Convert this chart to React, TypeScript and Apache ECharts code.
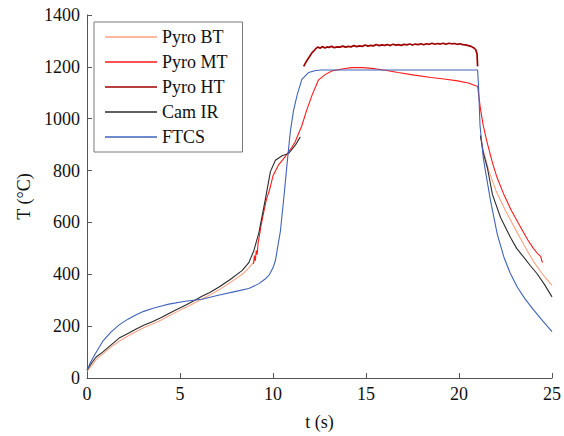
import React, { useEffect, useRef } from "react";
import * as echarts from "echarts";

const seriesNames = ["Pyro BT", "Pyro MT", "Pyro HT", "Cam IR", "FTCS"];
const seriesColors = ["#FFA282", "#FF1A1A", "#9E0000", "#2B2B2B", "#3F62BA"];

const xTicks = [0, 5, 10, 15, 20, 25];
const yTicks = [0, 200, 400, 600, 800, 1000, 1200, 1400];

// Pyro BT (two segments)
const btTimeA = [0, 0.25, 0.48, 0.84, 1.3, 1.73, 2.2, 2.62, 3.05, 3.51, 4.0, 4.4, 4.85, 5.29, 5.75, 6.18, 6.6, 7.1, 7.7, 8.35, 8.7, 9.0];
const btTempA = [25, 48, 70, 92, 120, 142, 162, 178, 194, 208, 224, 240, 256, 272, 288, 305, 320, 340, 368, 400, 425, 450];
const btTimeB = [21.15, 21.3, 21.6, 22.0, 22.5, 23.0, 23.5, 24.0, 24.5, 25.0];
const btTempB = [935, 880, 800, 720, 645, 578, 512, 450, 400, 357];

// Pyro MT
const mtTime = [8.95, 9.0, 9.05, 9.1, 9.15, 9.2, 9.25, 9.35, 9.5, 9.65, 9.8, 10.0, 10.3, 10.7, 11.0, 11.2, 11.55, 11.8, 12.09, 12.45, 12.8, 13.16, 13.7, 14.23, 14.8, 15.47, 16.1, 16.72, 17.6, 18.5, 19.2, 19.93, 20.5, 20.9, 21.0, 21.15, 21.3, 21.5, 21.8, 22.05, 22.4, 22.8, 23.2, 23.7, 24.0, 24.2, 24.4, 24.45, 24.5];
const mtTemp = [440, 472, 452, 492, 476, 522, 540, 585, 640, 690, 722, 780, 822, 858, 888, 912, 973, 1030, 1089, 1150, 1170, 1184, 1192, 1197, 1197, 1193, 1186, 1178, 1168, 1159, 1153, 1146, 1138, 1127, 1125, 1040, 975, 912, 830, 772, 710, 648, 596, 532, 500, 482, 468, 452, 446];

// Pyro HT
const htTime = [11.65, 11.8, 11.95, 12.1, 12.2, 12.3, 12.4, 12.55, 12.65, 12.8, 12.9, 13.0, 13.15, 13.3, 13.45, 13.6, 13.75, 13.9, 14.05, 14.2, 14.35, 14.5, 14.65, 14.8, 14.95, 15.1, 15.25, 15.4, 15.55, 15.7, 15.85, 16.0, 16.15, 16.3, 16.45, 16.6, 16.75, 16.9, 17.05, 17.2, 17.35, 17.5, 17.65, 17.8, 17.95, 18.1, 18.25, 18.4, 18.55, 18.7, 18.85, 19.0, 19.15, 19.3, 19.45, 19.6, 19.75, 19.9, 20.05, 20.2, 20.35, 20.5, 20.65, 20.8, 20.9, 20.97, 21.0];
const htTemp = [1202, 1222, 1238, 1255, 1262, 1270, 1276, 1272, 1278, 1273, 1277, 1275, 1279, 1274, 1277, 1276, 1280, 1276, 1279, 1277, 1282, 1278, 1281, 1279, 1284, 1280, 1283, 1281, 1286, 1282, 1285, 1283, 1286, 1282, 1287, 1284, 1286, 1283, 1287, 1285, 1288, 1284, 1288, 1286, 1289, 1285, 1289, 1287, 1291, 1287, 1290, 1288, 1291, 1287, 1291, 1289, 1290, 1287, 1289, 1286, 1285, 1282, 1279, 1273, 1266, 1250, 1202];

// Cam IR (two segments)
const camTimeA = [0, 0.25, 0.48, 0.84, 1.3, 1.73, 2.2, 2.62, 3.05, 3.51, 4.0, 4.4, 4.85, 5.29, 5.75, 6.18, 6.6, 7.1, 7.7, 8.35, 8.7, 8.97, 9.24, 9.6, 9.86, 10.13, 10.49, 10.84, 11.2, 11.47];
const camTempA = [30, 58, 80, 100, 128, 154, 172, 188, 203, 217, 233, 249, 265, 281, 298, 315, 330, 351, 380, 415, 445, 491, 560, 694, 796, 840, 857, 866, 898, 930];
const camTimeB = [21.15, 21.3, 21.53, 21.8, 22.24, 22.77, 23.1, 23.49, 23.85, 24.2, 24.6, 25.0];
const camTempB = [935, 870, 809, 707, 618, 542, 500, 465, 432, 402, 360, 313];

// FTCS
const ftTime = [0, 0.2, 0.4, 0.84, 1.3, 1.73, 2.2, 2.62, 3.05, 3.51, 4.0, 4.4, 5.29, 6.18, 7.0, 8.0, 8.7, 9.24, 9.6, 9.8, 10.0, 10.13, 10.22, 10.4, 10.58, 10.75, 10.93, 11.1, 11.29, 11.55, 11.91, 12.3, 12.6, 21.0, 21.05, 21.13, 21.31, 21.44, 21.7, 22.06, 22.42, 22.75, 23.13, 23.55, 24.02, 24.5, 25.0];
const ftTemp = [30, 62, 88, 141, 178, 205, 227, 243, 257, 268, 278, 285, 296, 304, 318, 334, 345, 364, 383, 398, 425, 453, 491, 567, 694, 821, 949, 1030, 1089, 1152, 1178, 1186, 1188, 1188, 1127, 974, 847, 790, 682, 554, 465, 405, 351, 305, 262, 220, 179];

const zip = (ts: number[], vs: number[]) => ts.map((t, i) => [t, vs[i]]);
const gap = (a: number[][], b: number[][]) => [...a, [null, null], ...b];

const FONT = "'Times New Roman', 'Liberation Serif', serif";
const FS = 18;

export default function App() {
  const ref = useRef<HTMLDivElement>(null);
  useEffect(() => {
    if (!ref.current) return;
    const chart = echarts.init(ref.current, null, { renderer: "svg" });
    const dataSets = [
      gap(zip(btTimeA, btTempA), zip(btTimeB, btTempB)),
      zip(mtTime, mtTemp),
      zip(htTime, htTemp),
      gap(zip(camTimeA, camTempA), zip(camTimeB, camTempB)),
      zip(ftTime, ftTemp),
    ];
    const axisLine = { show: true, lineStyle: { color: "#555", width: 1 } };
    const axisTick = { show: true, inside: true, length: 5, lineStyle: { color: "#555", width: 1 } };
    const txt = { fontFamily: FONT, fontSize: FS, color: "#111" };
    chart.setOption({
      animation: false,
      backgroundColor: "#fff",
      textStyle: { fontFamily: FONT, fontSize: FS },
      grid: { left: 87, right: 9, top: 15, bottom: 54, containLabel: false },
      legend: {
        orient: "vertical",
        left: 94,
        top: 22,
        padding: [6, 15, 6, 11],
        itemGap: 7,
        itemWidth: 52,
        itemHeight: 1.3,
        icon: "rect",
        borderColor: "#7a7a7a",
        borderWidth: 1,
        backgroundColor: "#fff",
        data: seriesNames,
        textStyle: { ...txt, lineHeight: 18 },
      },
      xAxis: {
        type: "value",
        min: xTicks[0],
        max: xTicks[xTicks.length - 1],
        interval: 5,
        name: "t (s)",
        nameLocation: "middle",
        nameGap: 35,
        nameTextStyle: { ...txt },
        axisLine,
        axisTick,
        splitLine: { show: false },
        axisLabel: { ...txt, margin: 7, formatter: (v: number) => String(v) },
      },
      yAxis: {
        type: "value",
        min: yTicks[0],
        max: yTicks[yTicks.length - 1],
        interval: 200,
        name: "T (°C)",
        nameLocation: "middle",
        nameGap: 53,
        nameTextStyle: { ...txt },
        axisLine,
        axisTick,
        splitLine: { show: false },
        axisLabel: { ...txt, margin: 7, formatter: (v: number) => String(v) },
      },
      series: seriesNames.map((name, i) => ({
        name,
        type: "line",
        data: dataSets[i],
        symbol: "none",
        showSymbol: false,
        connectNulls: false,
        color: seriesColors[i],
        lineStyle: { color: seriesColors[i], width: i === 2 ? 1.7 : 1.1 },
        z: i === 4 ? 3 : 2,
      })),
    });
    return () => chart.dispose();
  }, []);
  return <div ref={ref} style={{ position: "fixed", left: 0, top: 0, width: 564, height: 436 }} />;
}
